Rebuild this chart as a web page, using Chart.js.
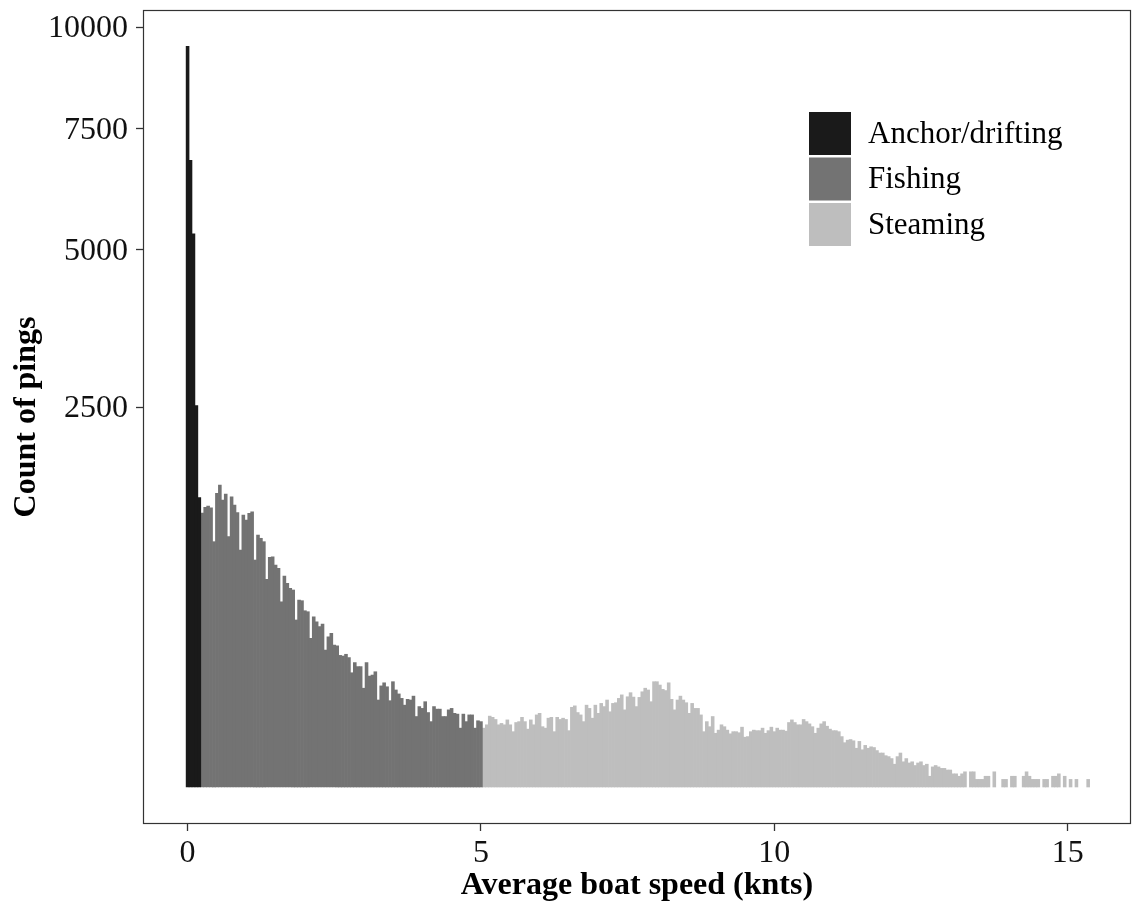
<!DOCTYPE html>
<html><head><meta charset="utf-8">
<script src="https://cdn.jsdelivr.net/npm/chart.js@4.4.1/dist/chart.umd.min.js"></script>
<style>html,body{margin:0;padding:0;background:#fff;}canvas{display:block;}</style>
</head><body>
<canvas id="c" width="1134" height="906"></canvas>
<script>
// ---- data (bin width 0.05 knots, bins centred on multiples of 0.05) ----
const binWidth = 0.05;
const anchorStart = 0.0;
const fishingStart = 0.25;
const steamingStart = 5.05;

const anchorCounts = [9500, 6800, 5300, 2520, 1450];

const fishingCounts = [
  1300, 1354, 1367, 1350, 1042, 1493, 1579, 1426, 1486, 1085,
  1459, 1377, 1303, 972, 1281, 1234, 1297, 1312, 892, 1099,
  1071, 1042, 747, 913, 918, 853, 828, 594, 771, 718,
  684, 672, 483, 605, 601, 538, 532, 383, 502, 473,
  445, 460, 325, 391, 409, 349, 345, 300, 297, 305,
  290, 226, 268, 251, 251, 169, 268, 213, 217, 230,
  131, 177, 188, 174, 129, 192, 163, 150, 136, 116,
  133, 131, 143, 86, 112, 107, 126, 96, 74, 112,
  105, 105, 86, 86, 103, 107, 94, 92, 60, 92,
  74, 90, 90, 60, 76, 74
];

const steamingCounts = [
  60, 67, 87, 84, 79, 67, 70, 67, 78, 67,
  53, 72, 74, 84, 74, 58, 78, 67, 90, 94,
  63, 60, 82, 84, 53, 84, 79, 82, 79, 55,
  110, 114, 96, 90, 74, 116, 107, 82, 116, 94,
  121, 112, 131, 98, 121, 123, 136, 147, 103, 141,
  154, 140, 112, 139, 157, 169, 163, 126, 192, 192,
  180, 165, 161, 188, 133, 103, 131, 143, 131, 123,
  94, 121, 107, 107, 90, 53, 74, 63, 86, 50,
  56, 67, 63, 56, 49, 53, 53, 51, 62, 43,
  44, 53, 56, 55, 55, 60, 50, 55, 62, 53,
  60, 56, 56, 54, 72, 78, 72, 67, 67, 79,
  74, 69, 63, 50, 60, 69, 74, 64, 58, 55,
  55, 53, 44, 34, 38, 39, 37, 26, 36, 24,
  30, 26, 28, 27, 23, 20, 20, 17, 16, 14,
  9, 16, 20, 11, 14, 10, 11, 8, 10, 11,
  8, 9, 2, 7, 8, 7, 6, 6, 5, 5,
  3, 3, 2, 3, 4, 0, 4, 4, 1, 1,
  1, 2, 2, 0, 4, 0, 0, 1, 1, 0,
  2, 2, 0, 0, 2, 4, 2, 1, 1, 1,
  0, 1, 1, 0, 2, 2, 3, 0, 2, 0,
  1, 0, 1, 0, 0, 0, 1
];

const seriesLabels = ['Anchor/drifting', 'Fishing', 'Steaming'];
const seriesColors = ['#1a1a1a', '#737373', '#bebebe'];
const xTickValues = [0, 5, 10, 15];
const yTickValues = [2500, 5000, 7500, 10000];

// ---- square-root scale ----
const sqrtT = v => Math.sign(v) * Math.sqrt(Math.abs(v));
class SqrtScale extends Chart.LinearScale {
  configure() {
    super.configure();
    this._tStart = sqrtT(this.min);
    this._tRange = sqrtT(this.max) - this._tStart;
  }
  buildTicks() {
    return yTickValues.map(v => ({ value: v }));
  }
  getPixelForValue(value) {
    return this.getPixelForDecimal((sqrtT(value) - this._tStart) / this._tRange);
  }
  getValueForPixel(pixel) {
    const t = this._tStart + this.getDecimalForPixel(pixel) * this._tRange;
    return Math.sign(t) * t * t;
  }
}
SqrtScale.id = 'sqrt';
SqrtScale.defaults = Chart.LinearScale.defaults;
Chart.register(SqrtScale);

function toPoints(counts, start) {
  return counts
    .map((c, i) => ({ x: Math.round((start + i * binWidth) * 100) / 100, y: c }))
    .filter(p => p.y > 0);
}

const FONT = '"Liberation Serif", "Times New Roman", serif';
Chart.defaults.font.family = FONT;

const panelBorder = {
  id: 'panelBorder',
  afterDraw(chart) {
    const { ctx, chartArea: a } = chart;
    ctx.save();
    ctx.strokeStyle = '#333333';
    ctx.lineWidth = 1.2;
    ctx.strokeRect(a.left + 0.5, a.top + 0.5, a.right - a.left - 1, a.bottom - a.top - 1);
    ctx.restore();
  }
};

const legendBox = {
  id: 'legendBox',
  afterDraw(chart) {
    const ctx = chart.ctx;
    const x0 = 809, keyW = 42, keyH = 43, y0 = 112, step = 45.5, textX = 868;
    ctx.save();
    ctx.font = '31px ' + FONT;
    ctx.textBaseline = 'middle';
    ctx.textAlign = 'left';
    chart.data.datasets.forEach((ds, i) => {
      const y = y0 + i * step;
      ctx.fillStyle = ds.backgroundColor;
      ctx.fillRect(x0, y, keyW, keyH);
      ctx.fillStyle = '#000';
      ctx.fillText(ds.label, textX, y + keyH / 2 + 1);
    });
    ctx.restore();
  }
};

const starts = [anchorStart, fishingStart, steamingStart];
const allCounts = [anchorCounts, fishingCounts, steamingCounts];

new Chart(document.getElementById('c'), {
  type: 'bar',
  data: {
    datasets: seriesLabels.map((label, i) => ({
      label,
      data: toPoints(allCounts[i], starts[i]),
      backgroundColor: seriesColors[i],
      borderWidth: 0,
      barPercentage: 1,
      categoryPercentage: 1,
      grouped: false
    }))
  },
  options: {
    responsive: false,
    animation: false,
    devicePixelRatio: 1,
    layout: { padding: { top: 10, right: 3, left: 0, bottom: 0 } },
    plugins: { legend: { display: false }, tooltip: { enabled: false } },
    scales: {
      x: {
        type: 'linear',
        min: -0.76,
        max: 16.08,
        offset: false,
        afterBuildTicks: s => { s.ticks = xTickValues.map(v => ({ value: v })); },
        afterFit: s => { s.height = 82; s.paddingLeft = 0; s.paddingRight = 0; },
        grid: { drawOnChartArea: false, offset: false, tickLength: 7, tickColor: '#333', tickWidth: 1.3 },
        border: { display: false },
        ticks: { font: { size: 32 }, color: '#111', padding: 3, maxRotation: 0, callback: v => String(v) },
        title: { display: true, text: 'Average boat speed (knts)', color: '#000',
                 font: { size: 32, weight: 'bold' }, padding: { top: 0, bottom: 1 } }
      },
      y: {
        type: 'sqrt',
        min: -23.7,
        max: 10453,
        afterFit: s => { s.width = 143; s.paddingTop = 0; s.paddingBottom = 0; },
        grid: { drawOnChartArea: false, tickLength: 7, tickColor: '#333', tickWidth: 1.3 },
        border: { display: false },
        ticks: { font: { size: 32 }, color: '#111', padding: 8, labelOffset: 2, callback: v => String(v) },
        title: { display: true, text: 'Count of pings', color: '#000',
                 font: { size: 32, weight: 'bold' }, padding: { top: 8, bottom: 0 } }
      }
    }
  },
  plugins: [panelBorder, legendBox]
});
</script>
</body></html>
